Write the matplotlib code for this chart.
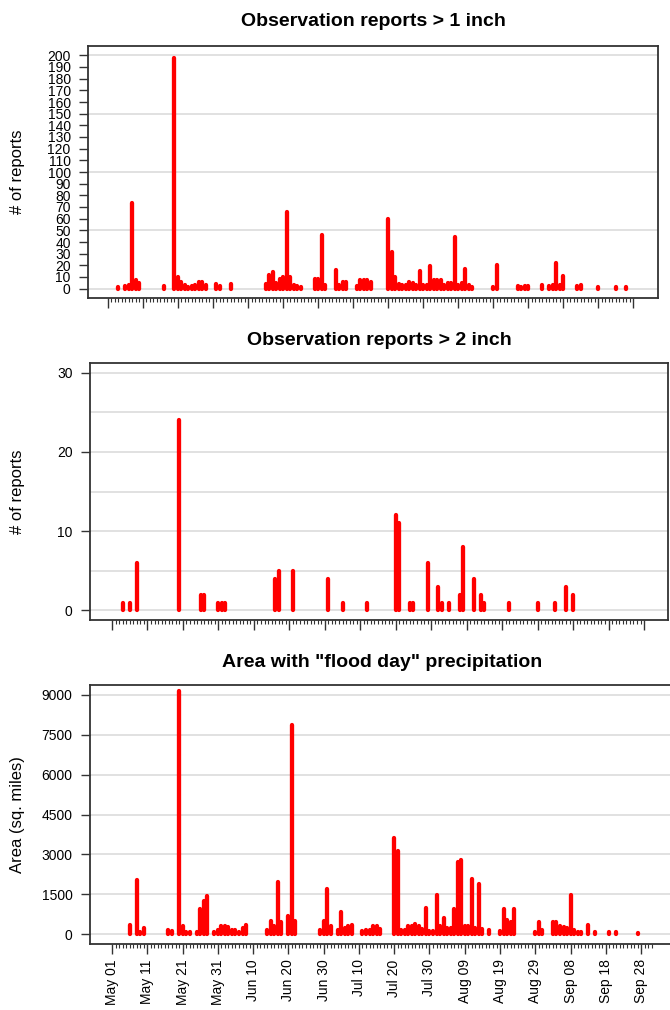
import matplotlib
matplotlib.use("Agg")
import matplotlib.pyplot as plt
from matplotlib.ticker import FixedLocator, NullFormatter

plt.rcParams["font.family"] = ["Liberation Sans", "DejaVu Sans"]

# ---------- data (day 0 = May 01) ---------- #

rep1_days = [3, 5, 6, 7, 8, 9, 16, 19, 20, 21, 22, 23, 24, 25, 26, 27, 28, 31, 32, 35,
             45, 46, 47, 48, 49, 50, 51, 52, 53, 54, 55, 59, 60, 61, 62, 65, 66, 67, 68,
             71, 72, 73, 74, 75, 80, 81, 82, 83, 84, 85, 86, 87, 88, 89, 90, 91, 92, 93,
             94, 95, 96, 97, 98, 99, 100, 101, 102, 103, 104, 110, 111, 117, 118, 119, 120,
             124, 126, 127, 128, 129, 130, 134, 135, 140, 145, 148]
rep1_vals = [1, 2, 3, 73, 7, 5, 2, 198, 10, 6, 3, 1, 2, 3, 6, 6, 3, 4, 2, 4,
             4, 12, 14, 5, 8, 10, 66, 10, 3, 2, 1, 8, 8, 46, 3, 16, 3, 6, 6,
             2, 7, 7, 7, 6, 60, 31, 10, 4, 3, 3, 6, 5, 3, 15, 3, 3, 19, 7,
             7, 7, 3, 5, 5, 44, 3, 5, 17, 3, 1, 1, 20, 2, 1, 2, 2,
             3, 2, 3, 22, 3, 11, 2, 3, 1, 1, 1]

rep2_days = [3, 5, 7, 19, 25, 26, 30, 31, 32, 46, 47, 51, 61, 65, 72, 80, 81, 84, 85,
             89, 92, 93, 95, 98, 99, 102, 104, 105, 112, 120, 125, 128, 130]
rep2_vals = [1, 1, 6, 24, 2, 2, 1, 1, 1, 4, 5, 5, 4, 1, 1, 12, 11, 1, 1,
             6, 3, 1, 1, 2, 8, 4, 2, 1, 1, 1, 1, 3, 2]

area_days = [5, 7, 8, 9, 16, 17, 19, 20, 21, 22, 24, 25, 26, 27, 29, 30, 31, 32, 33, 34,
             35, 36, 37, 38, 44, 45, 46, 47, 48, 50, 51, 52, 59, 60, 61, 62, 64, 65, 66,
             67, 68, 71, 72, 73, 74, 75, 76, 80, 81, 82, 83, 84, 85, 86, 87, 88, 89, 90,
             91, 92, 93, 94, 95, 96, 97, 98, 99, 100, 101, 102, 103, 104, 105, 107, 110,
             111, 112, 113, 114, 120, 121, 122, 125, 126, 127, 128, 129, 130, 131, 132,
             133, 135, 137, 141, 143, 149]
area_vals = [350, 2060, 100, 250, 160, 120, 9130, 310, 100, 80, 100, 950, 1250, 1450, 100,
             150, 300, 300, 280, 150, 180, 100, 250, 350, 150, 500, 300, 1950, 450, 690,
             7850, 510, 160, 510, 1690, 300, 160, 850, 240, 300, 350, 140, 160, 160, 300,
             300, 200, 3600, 3140, 180, 180, 300, 300, 400, 300, 200, 975, 120, 120, 1470,
             300, 600, 240, 240, 940, 2700, 2780, 300, 300, 2080, 250, 1900, 200, 150, 140,
             940, 540, 480, 940, 100, 450, 160, 480, 450, 300, 280, 250, 1470, 160, 100,
             80, 350, 80, 80, 80, 50]

tick_days = list(range(0, 151, 10))
tick_labels = ["May 01", "May 11", "May 21", "May 31", "Jun 10", "Jun 20", "Jun 30",
               "Jul 10", "Jul 20", "Jul 30", "Aug 09", "Aug 19", "Aug 29", "Sep 08",
               "Sep 18", "Sep 28"]

# ---------- layout (pixels) ---------- #

W, H = 670, 1010
fig = plt.figure(figsize=(W / 100, H / 100), dpi=100)

RED = "#ff0000"
GRID = "#dcdcdc"
EDGE = "#333333"


def add_panel(box, xlim, ylim, yticks, grid_step, last_tick):
    left, top, right, bottom = box
    ax = fig.add_axes([left / W, 1 - bottom / H, (right - left) / W, (bottom - top) / H])
    ax.set_xlim(*xlim)
    ax.set_ylim(*ylim)
    for s in ax.spines.values():
        s.set_color(EDGE)
        s.set_linewidth(1.3)
    ax.xaxis.set_major_locator(FixedLocator(tick_days))
    ax.xaxis.set_minor_locator(FixedLocator(range(0, last_tick + 1)))
    ax.xaxis.set_major_formatter(NullFormatter())
    ax.tick_params(axis="x", which="major", length=7, width=1.0, color=EDGE)
    ax.tick_params(axis="x", which="minor", length=3, width=0.8, color=EDGE)
    ax.set_yticks(yticks)
    ax.tick_params(axis="y", length=6.5, width=1.0, color=EDGE, labelsize=10, pad=6)
    y = 0
    while y <= yticks[-1]:
        ax.axhline(y, color=GRID, lw=1.2, zorder=1)
        y += grid_step
    return ax


def bars(ax, days, vals):
    # R style type="h": thick vertical lines with round ends
    lc = ax.vlines(days, 0, vals, colors=RED, linewidth=3.1, zorder=3)
    lc.set_capstyle("round")


def title(ax, text, dy):
    ax.annotate(text, xy=(0.5, 1), xycoords="axes fraction", xytext=(0, dy),
                textcoords="offset points", ha="center", va="center",
                fontsize=14, fontweight="bold")


# panel 1
ax1 = add_panel((88, 46, 658, 298), (-5.7, 157.1), (-8, 208),
                list(range(0, 201, 10)), 50, 150)
bars(ax1, rep1_days, rep1_vals)
title(ax1, "Observation reports > 1 inch", 17.5)

# panel 2
ax2 = add_panel((90, 363, 668, 620), (-6.2, 156.75), (-1.2, 31.2),
                [0, 10, 20, 30], 5, 150)
bars(ax2, rep2_days, rep2_vals)
title(ax2, "Observation reports > 2 inch", 16.5)

# panel 3
ax3 = add_panel((90, 685, 675, 944), (-6.24, 159.6), (-360, 9360),
                list(range(0, 9001, 1500)), 1500, 153)
bars(ax3, area_days, area_vals)
title(ax3, 'Area with "flood day" precipitation', 16)
ax3.set_xticklabels(tick_labels, rotation=90, fontsize=10)
ax3.tick_params(axis="x", which="major", pad=4)

# y labels
for ax, lab in [(ax1, "# of reports"), (ax2, "# of reports"), (ax3, "Area (sq. miles)")]:
    pos = ax.get_position()
    fig.text(18 / W, pos.y0 + pos.height / 2, lab, rotation=90, ha="center",
             va="center", fontsize=12)

fig.savefig("out.png", dpi=100)
